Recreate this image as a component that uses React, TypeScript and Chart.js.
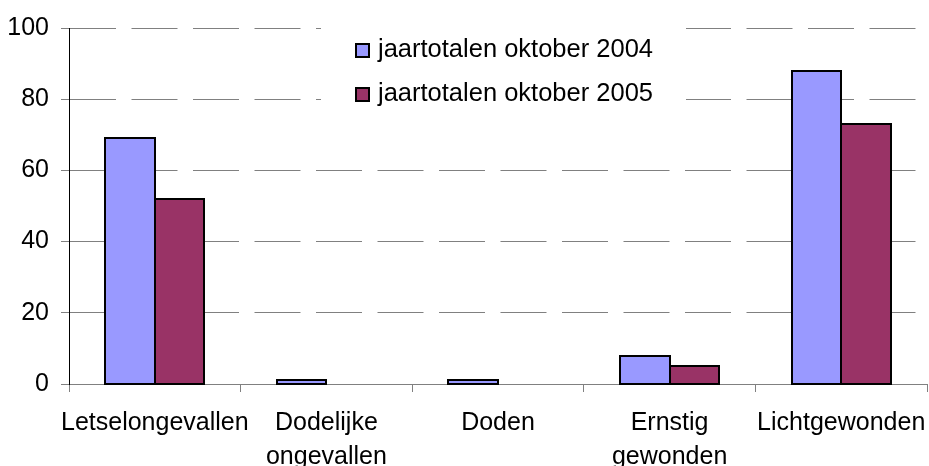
import React, { useEffect, useRef } from "react";
import { Chart, registerables } from "chart.js";

Chart.register(...registerables);

const categories: (string | string[])[] = [
  "Letselongevallen",
  ["Dodelijke", "ongevallen"],
  "Doden",
  ["Ernstig", "gewonden"],
  "Lichtgewonden",
];
const series2004 = [69, 1, 1, 8, 88];
const series2005 = [52, 0, 0, 5, 73];
const seriesNames = ["jaartotalen oktober 2004", "jaartotalen oktober 2005"];
const seriesColors = ["#9999FF", "#993366"];

const FONT = "'Liberation Sans', Arial, sans-serif";

// strokes bar outlines centered on the element edges (as in the reference)
const outlinePlugin = {
  id: "barOutline",
  afterDatasetsDraw(chart: any) {
    const ctx = chart.ctx;
    ctx.save();
    ctx.strokeStyle = "#000";
    ctx.lineWidth = 2;
    chart.data.datasets.forEach((_: any, di: number) => {
      const meta = chart.getDatasetMeta(di);
      meta.data.forEach((el: any) => {
        const { x, y, base, width } = el.getProps(["x", "y", "base", "width"], true);
        if (Math.abs(base - y) < 0.5) return;
        const l = Math.round(x - width / 2);
        const r = Math.round(x + width / 2);
        const t = Math.round(Math.min(y, base));
        const b = Math.round(Math.max(y, base));
        ctx.strokeRect(l, t, r - l, b - t);
      });
    });
    ctx.restore();
  },
};

const legendPlugin = {
  id: "boxLegend",
  afterDraw(chart: any) {
    const ctx = chart.ctx;
    ctx.save();
    ctx.fillStyle = "#ffffff";
    ctx.fillRect(321, 18, 365, 96);
    ctx.font = `25.5px ${FONT}`;
    ctx.textBaseline = "alphabetic";
    ctx.textAlign = "left";
    const items = chart.data.datasets;
    items.forEach((ds: any, i: number) => {
      const y = 44 + i * 44;
      ctx.fillStyle = ds.backgroundColor;
      ctx.fillRect(356, y, 13, 13);
      ctx.strokeStyle = "#000";
      ctx.lineWidth = 2;
      ctx.strokeRect(356, y, 13, 13);
      ctx.fillStyle = "#000";
      ctx.fillText(ds.label, 378, y + 13);
    });
    ctx.restore();
  },
};

export default function App() {
  const ref = useRef<HTMLCanvasElement>(null);
  useEffect(() => {
    const chart = new Chart(ref.current!, {
      type: "bar",
      data: {
        labels: categories,
        datasets: [
          {
            label: seriesNames[0],
            data: series2004,
            backgroundColor: seriesColors[0],
            borderWidth: 0,
          },
          {
            label: seriesNames[1],
            data: series2005,
            backgroundColor: seriesColors[1],
            borderWidth: 0,
          },
        ],
      },
      options: {
        animation: false,
        responsive: false,
        maintainAspectRatio: false,
        datasets: { bar: { barPercentage: 1, categoryPercentage: 0.578, inflateAmount: 0 } },
        layout: { padding: { top: 28, right: 2, left: 0, bottom: 0 } },
        plugins: { legend: { display: false }, tooltip: { enabled: false } },
        scales: {
          x: {
            offset: true,
            afterFit: (s: any) => {
              s.height = 82;
              s.paddingLeft = 0;
              s.paddingRight = 0;
            },
            grid: {
              display: true,
              offset: true,
              drawOnChartArea: false,
              drawTicks: true,
              tickLength: 8,
              color: "#808080",
              lineWidth: 1,
            },
            border: { display: true, color: "#808080", width: 1 },
            ticks: {
              color: "#000",
              font: { family: FONT, size: 25, lineHeight: 1.36 },
              padding: 14,
              maxRotation: 0,
              autoSkip: false,
            },
          },
          y: {
            min: 0,
            max: 100,
            afterFit: (s: any) => {
              s.width = 69;
            },
            ticks: {
              stepSize: 20,
              color: "#000",
              font: { family: FONT, size: 25 },
              padding: 12,
            },
            grid: {
              color: "#808080",
              lineWidth: 1,
              tickLength: 8,
              tickColor: "#808080",
            },
            border: { display: true, color: "#000", width: 1, dash: [46, 15.5] },
          },
        },
      },
      plugins: [outlinePlugin, legendPlugin],
    });
    return () => chart.destroy();
  }, []);
  return (
    <div style={{ position: "absolute", left: 0, top: 0, width: 929, height: 466, background: "#fff" }}>
      <canvas ref={ref} width={929} height={466} />
    </div>
  );
}
